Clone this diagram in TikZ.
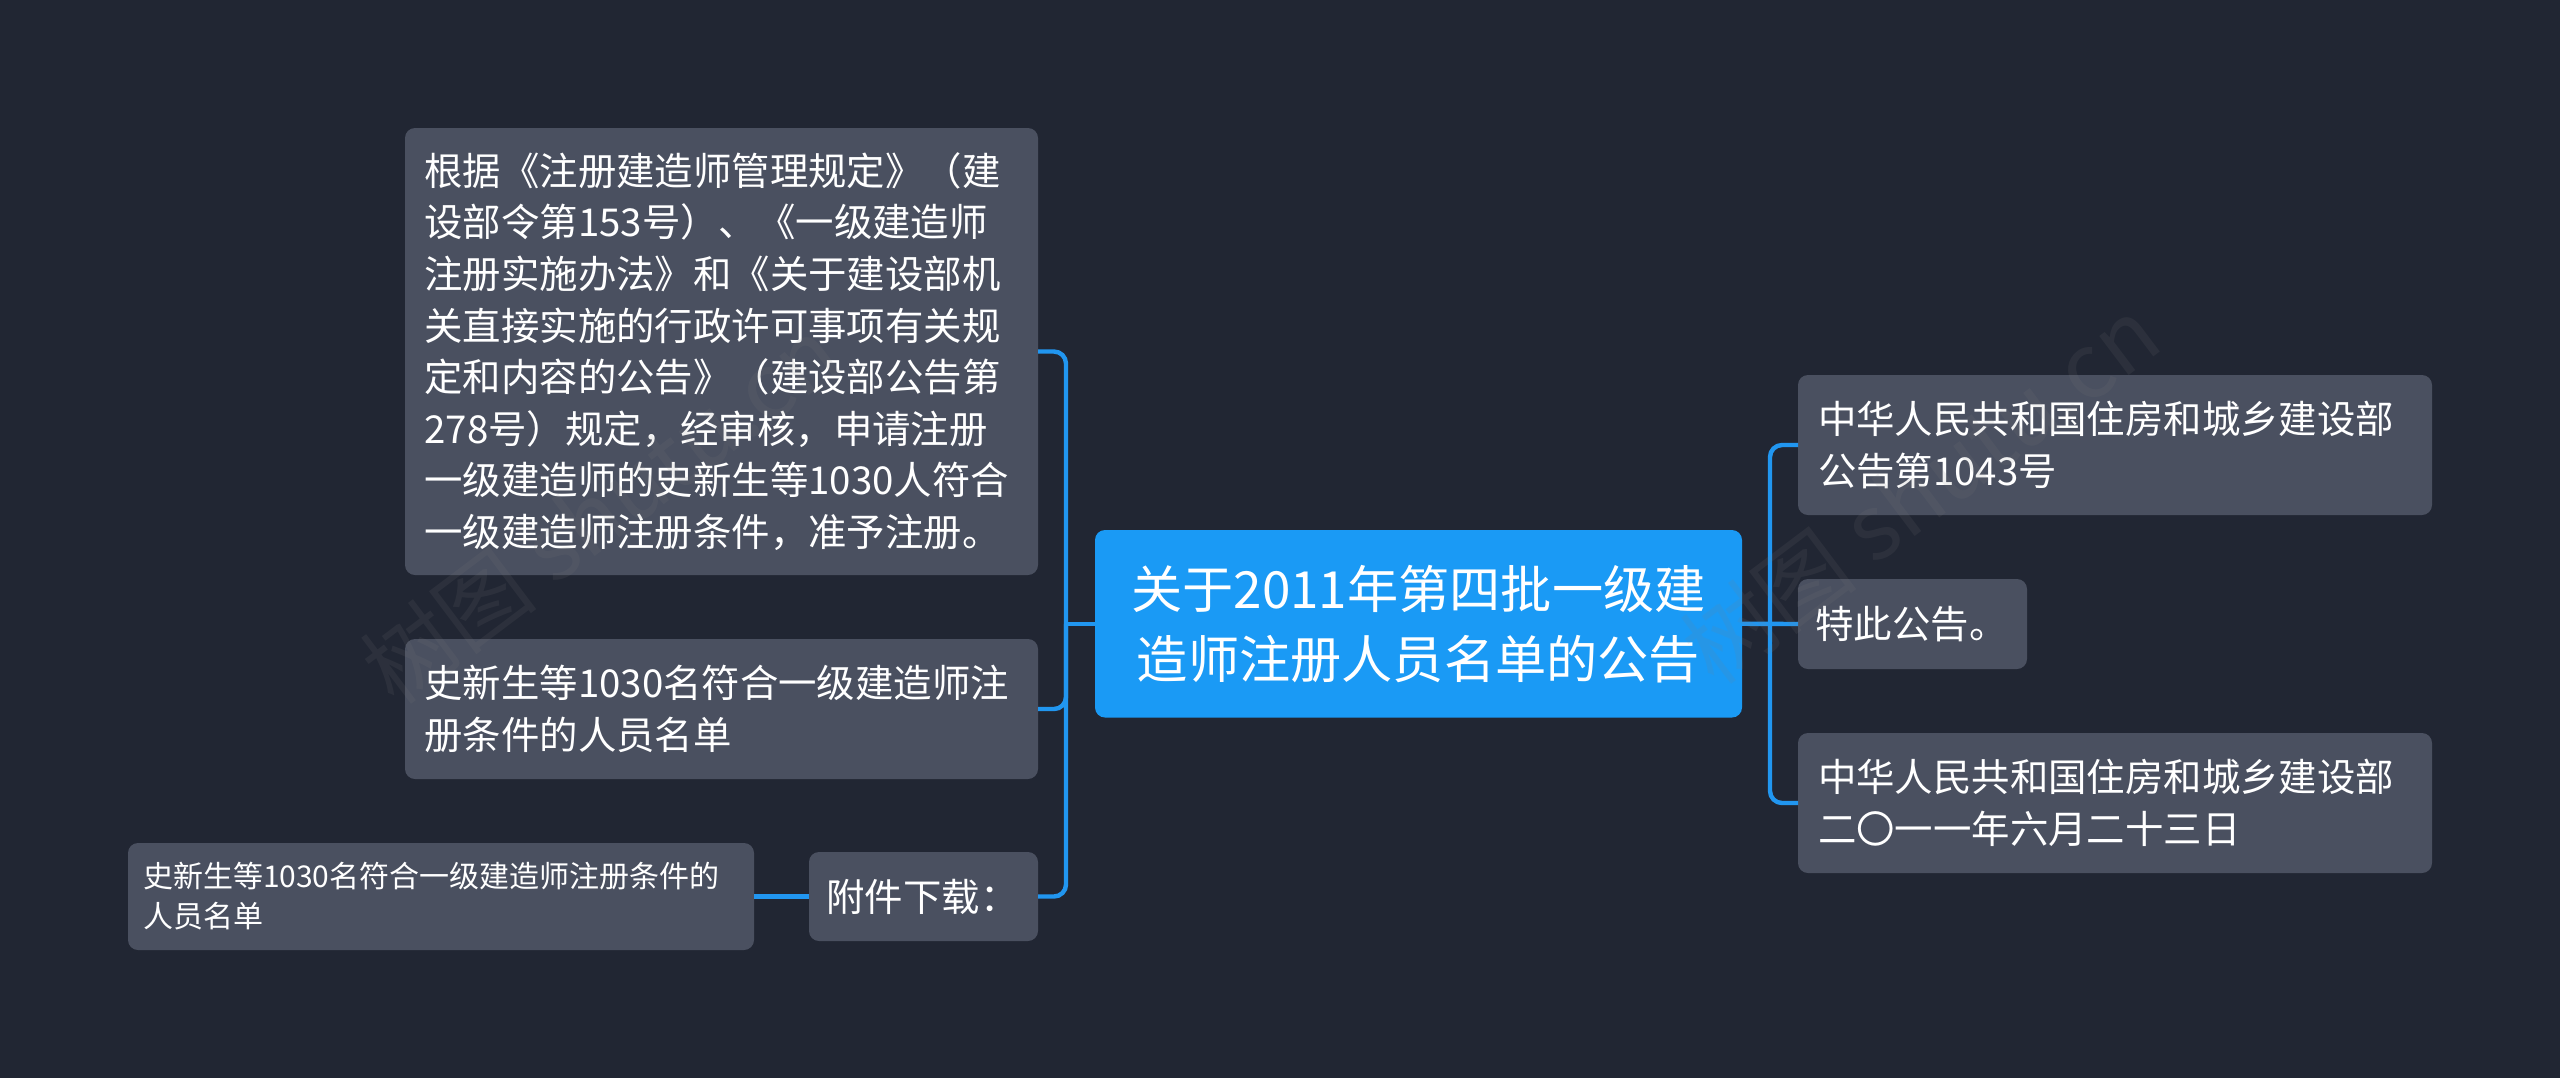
\documentclass[tikz,border=0pt]{standalone}
\usepackage{fontspec}
\setmainfont{Noto Sans CJK SC}
\definecolor{bgc}{HTML}{212633}
\definecolor{boxc}{HTML}{4A5060}
\definecolor{rootc}{HTML}{1A9AF5}
\definecolor{linec}{HTML}{2196F0}
\tikzset{
  mapbox/.style={fill=boxc,rounded corners=5pt,inner sep=0pt,outer sep=0pt,text=white,align=left,anchor=center},
  rootbox/.style={fill=rootc,rounded corners=5pt,inner sep=0pt,outer sep=0pt,text=white,align=center,anchor=center},
  fontbig/.style={font=\fontsize{19.2}{25.8}\selectfont},
  fontsmall/.style={font=\fontsize{15}{20}\selectfont},
  fontroot/.style={font=\fontsize{25.6}{35}\selectfont},
  conn/.style={draw=linec,line width=2.2pt},
  bendconn/.style={conn,rounded corners=6pt},
  wmark/.style={text=gray,text opacity=0.12,font=\fontsize{45}{45}\selectfont,rotate=37,anchor=center}
}
\begin{document}
\begin{tikzpicture}[x=0.5pt,y=-0.5pt]
\useasboundingbox[fill=bgc] (0,0) rectangle (2560,1078);
\coordinate (lj) at (1066,623.75);
\coordinate (rj) at (1770,623.75);
\node[rootbox,fontroot,minimum width=323.5pt,minimum height=93.75pt] (root) at (1418.5,623.75) {关于2011年第四批一级建\\造师注册人员名单的公告};
\node[mapbox,fontbig,minimum width=316.5pt,minimum height=223.5pt,text width=297pt] (b1) at (721.5,351.5) {根据《注册建造师管理规定》（建\\设部令第153号）、《一级建造师\\注册实施办法》和《关于建设部机\\关直接实施的行政许可事项有关规\\定和内容的公告》（建设部公告第\\278号）规定，经审核，申请注册\\一级建造师的史新生等1030人符合\\一级建造师注册条件，准予注册。};
\node[mapbox,fontbig,minimum width=316.5pt,minimum height=70pt,text width=297pt] (b2) at (721.5,709) {史新生等1030名符合一级建造师注\\册条件的人员名单};
\node[mapbox,fontbig,minimum width=114.5pt,minimum height=44.5pt,text width=97pt] (att) at (923.5,896.5) {附件下载：};
\node[mapbox,fontsmall,minimum width=313pt,minimum height=53.5pt,text width=298pt] (file) at (441,896.5) {史新生等1030名符合一级建造师注册条件的\\人员名单};
\node[mapbox,fontbig,minimum width=317pt,minimum height=70pt,text width=297pt] (r1) at (2115,445) {中华人民共和国住房和城乡建设部\\公告第1043号};
\node[mapbox,fontbig,minimum width=114.5pt,minimum height=45pt,text width=97pt] (r2) at (1912.5,624) {特此公告。};
\node[mapbox,fontbig,minimum width=317pt,minimum height=70pt,text width=297pt] (r3) at (2115,803) {中华人民共和国住房和城乡建设部\\二〇一一年六月二十三日};
\draw[conn] (root.west) -- (lj);
\draw[conn] (root.east) -- (r2.west);
\draw[bendconn] (b1.east) -| (lj);
\draw[bendconn] (b2.east) -| (lj);
\draw[bendconn] (att.east) -| (lj);
\draw[bendconn] (r1.west) -| (rj);
\draw[bendconn] (r3.west) -| (rj);
\draw[conn] (att.west) -- (file.east);
\node[wmark] (wm1) at (600,510) {树图 shutu.cn};
\node[wmark] (wm2) at (1920,490) {树图 shutu.cn};
\end{tikzpicture}
\end{document}
